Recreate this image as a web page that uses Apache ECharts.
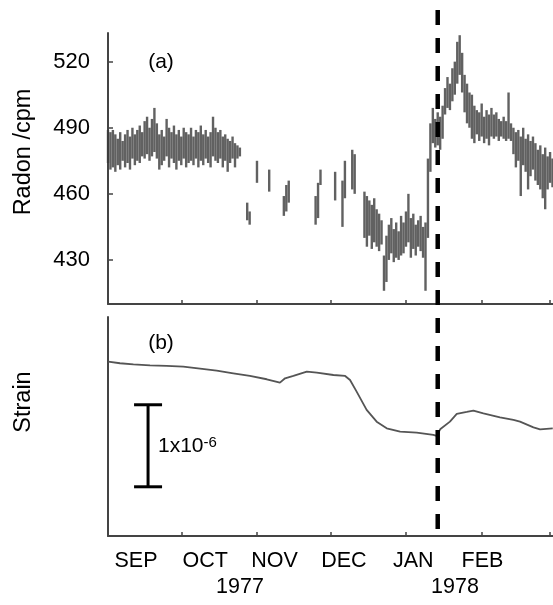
<!DOCTYPE html>
<html>
<head>
<meta charset="utf-8">
<script src="https://cdn.jsdelivr.net/npm/echarts@6/dist/echarts.min.js"></script>
<style>html,body{margin:0;padding:0;background:#fff}#chart{width:553px;height:605px}</style>
</head>
<body>
<div id="chart"></div>
<script>
// days counted from 1977-09-01
var months = ['SEP', 'OCT', 'NOV', 'DEC', 'JAN', 'FEB'];
var years = ['1977', '1978'];
var monthStarts = [0, 30, 61, 91, 122, 153, 181];
var radonTicks = [430, 460, 490, 520];
var quakeDay = 135; // 1978-01-14

// daily radon range (cpm), null = no record
var radonHigh = [
  489,488,489,487,485,488,484,487,489,486,
  490,487,489,491,488,493,495,490,494,499,
  492,487,489,486,494,490,488,491,487,489,
  486,490,488,487,490,486,489,488,491,487,
  489,486,488,495,490,488,489,486,487,485,
  484,486,483,482,481,null,null,456,452,null,
  null,475,null,null,null,null,471,null,null,null,
  null,null,459,464,466,null,null,null,null,null,
  null,null,null,null,null,459,465,471,null,null,
  null,null,null,470,null,null,466,475,null,null,
  480,478,null,null,null,461,459,457,455,458,
  453,451,448,432,441,446,449,444,447,443,
  450,447,452,460,449,451,446,448,450,445,
  447,476,492,499,494,497,495,500,508,513,
  510,517,520,529,532,524,514,510,506,505,
  500,498,497,501,495,498,496,499,496,497,
  494,493,495,493,506,492,490,488,489,486,
  490,485,487,484,486,483,480,482,478,481,
  477,479,476
];
var radonLow = [
  474,471,472,470,473,471,475,472,474,471,
  476,473,475,474,477,476,478,475,477,479,
  476,471,473,475,477,472,476,474,471,475,
  473,476,472,474,475,473,476,472,475,473,
  476,474,472,477,475,474,476,472,475,470,
  474,476,472,476,477,null,null,448,446,null,
  null,465,null,null,null,null,461,null,null,null,
  null,null,450,452,456,null,null,null,null,null,
  null,null,null,null,null,446,449,464,null,null,
  null,null,null,457,null,null,445,458,null,null,
  462,460,null,null,null,440,436,441,435,438,
  436,434,437,416,420,430,433,429,431,430,
  432,433,436,438,431,435,432,436,434,431,
  416,440,470,483,481,482,480,485,496,499,
  498,502,505,510,514,506,497,492,490,485,
  483,487,484,486,483,485,482,486,485,486,
  484,486,485,484,485,484,478,472,475,459,
  473,470,462,468,471,466,464,462,458,453,
  462,465,463
];

// strain, in units of 1e-6 (arbitrary zero)
var strainDay = [0.1,4.9,10.4,17.2,24.0,30.8,37.7,44.5,51.3,58.1,65.0,70.4,72.5,75.9,81.4,85.5,92.3,97.1,99.1,101.8,
  105.9,110.0,114.1,119.6,126.4,133.2,134.6,136.0,140.0,142.8,146.9,149.6,153.7,160.5,166.0,168.7,174.2,176.9,182.1];
var strainValue = [2.126,2.106,2.093,2.081,2.073,2.065,2.041,2.016,1.984,1.951,1.911,1.870,1.923,1.951,2.004,1.992,1.963,1.951,1.902,1.760,
  1.537,1.394,1.313,1.272,1.260,1.232,1.220,1.301,1.394,1.488,1.512,1.528,1.496,1.447,1.415,1.394,1.325,1.301,1.313];

// scale bar: [day, low, high]
var scaleBar = [16.4, 0.6, 1.6];

var FONT = 'Liberation Sans, Arial, sans-serif';
var AXIS = {show: true, lineStyle: {color: '#444', width: 2}};

var radonData = [];
radonHigh.forEach(function (h, i) {
  if (h != null) radonData.push([i, radonLow[i], h]);
});
var strainData = strainDay.map(function (d, i) { return [d, strainValue[i]]; });

var chart = echarts.init(document.getElementById('chart'));
chart.setOption({
  animation: false,
  backgroundColor: '#fff',
  grid: [
    {left: 108, right: 0, top: 33, height: 271},
    {left: 108, right: 0, top: 317, height: 219},
    {left: 136, width: 346.5, top: 549, height: 1},
    {left: 240, width: 215, top: 575, height: 1},
    {left: 108, right: 0, top: 10, height: 520}
  ],
  xAxis: [
    {gridIndex: 0, type: 'value', min: 0, max: 182.2, axisLine: AXIS,
      axisTick: {inside: true, length: 4, customValues: monthStarts, lineStyle: {color: '#444', width: 1.5}},
      axisLabel: {show: false}, splitLine: {show: false}},
    {gridIndex: 1, type: 'value', min: 0, max: 182.2, axisLine: AXIS,
      axisTick: {inside: true, length: 4, customValues: monthStarts, lineStyle: {color: '#444', width: 1.5}},
      axisLabel: {show: false}, splitLine: {show: false}},
    {gridIndex: 2, type: 'category', data: months, boundaryGap: false,
      axisLine: {show: false}, axisTick: {show: false},
      axisLabel: {interval: 0, margin: 0, color: '#000', fontSize: 21.5, fontFamily: FONT}},
    {gridIndex: 3, type: 'category', data: years, boundaryGap: false,
      axisLine: {show: false}, axisTick: {show: false},
      axisLabel: {interval: 0, margin: 0, color: '#000', fontSize: 21.5, fontFamily: FONT}},
    {gridIndex: 4, type: 'value', min: 0, max: 182.2, show: false}
  ],
  yAxis: [
    {gridIndex: 0, type: 'value', min: 410, max: 533, axisLine: AXIS,
      axisTick: {inside: true, length: 5, customValues: radonTicks, lineStyle: {color: '#444', width: 1.5}},
      axisLabel: {customValues: radonTicks, margin: 18, color: '#000', fontSize: 22, fontFamily: FONT},
      splitLine: {show: false}},
    {gridIndex: 1, type: 'value', min: 0, max: 2.67, axisLine: AXIS,
      axisTick: {show: false}, axisLabel: {show: false}, splitLine: {show: false}},
    {gridIndex: 2, type: 'value', min: 0, max: 1, show: false},
    {gridIndex: 3, type: 'value', min: 0, max: 1, show: false},
    {gridIndex: 4, type: 'value', min: 0, max: 1, show: false}
  ],
  graphic: [
    {type: 'text', x: 24, y: 152, rotation: Math.PI / 2,
      style: {text: 'Radon /cpm', fill: '#000', font: '23.5px ' + FONT, align: 'center', verticalAlign: 'middle'}},
    {type: 'text', x: 24, y: 402, rotation: Math.PI / 2,
      style: {text: 'Strain', fill: '#000', font: '23.5px ' + FONT, align: 'center', verticalAlign: 'middle'}},
    {type: 'text', x: 161, y: 62,
      style: {text: '(a)', fill: '#000', font: '21px ' + FONT, align: 'center', verticalAlign: 'middle'}},
    {type: 'text', x: 161, y: 343,
      style: {text: '(b)', fill: '#000', font: '21px ' + FONT, align: 'center', verticalAlign: 'middle'}},
    {type: 'text', x: 158, y: 446,
      style: {text: '1x10{s|-6}', fill: '#000', font: '21px ' + FONT, verticalAlign: 'middle',
        rich: {s: {fontSize: 15, fontFamily: FONT, verticalAlign: 'top', lineHeight: 14}}}}
  ],
  series: [
    {
      type: 'custom', xAxisIndex: 0, yAxisIndex: 0, data: radonData,
      encode: {x: 0, y: [1, 2]},
      renderItem: function (params, api) {
        var a = api.coord([api.value(0), api.value(1)]);
        var b = api.coord([api.value(0), api.value(2)]);
        return {type: 'line', shape: {x1: a[0], y1: a[1], x2: b[0], y2: b[1]},
          style: {stroke: '#3a3a3a', lineWidth: 2.4, opacity: 0.8}};
      }
    },
    {
      type: 'line', xAxisIndex: 1, yAxisIndex: 1, data: strainData,
      showSymbol: false, lineStyle: {color: '#555', width: 1.8}
    },
    {
      type: 'custom', xAxisIndex: 1, yAxisIndex: 1, data: [scaleBar],
      encode: {x: 0, y: [1, 2]},
      renderItem: function (params, api) {
        var lo = api.coord([api.value(0), api.value(1)]);
        var hi = api.coord([api.value(0), api.value(2)]);
        var st = {stroke: '#000', lineWidth: 3};
        return {type: 'group', children: [
          {type: 'line', shape: {x1: lo[0], y1: lo[1], x2: hi[0], y2: hi[1]}, style: st},
          {type: 'line', shape: {x1: hi[0] - 14, y1: hi[1], x2: hi[0] + 14, y2: hi[1]}, style: st},
          {type: 'line', shape: {x1: lo[0] - 14, y1: lo[1], x2: lo[0] + 14, y2: lo[1]}, style: st}
        ]};
      }
    },
    {
      type: 'line', xAxisIndex: 4, yAxisIndex: 4, z: 10,
      data: [[quakeDay, 1], [quakeDay, 0]], showSymbol: false,
      lineStyle: {color: '#000', width: 4.5, type: [15, 13], cap: 'butt'}
    }
  ]
});
</script>
</body>
</html>
